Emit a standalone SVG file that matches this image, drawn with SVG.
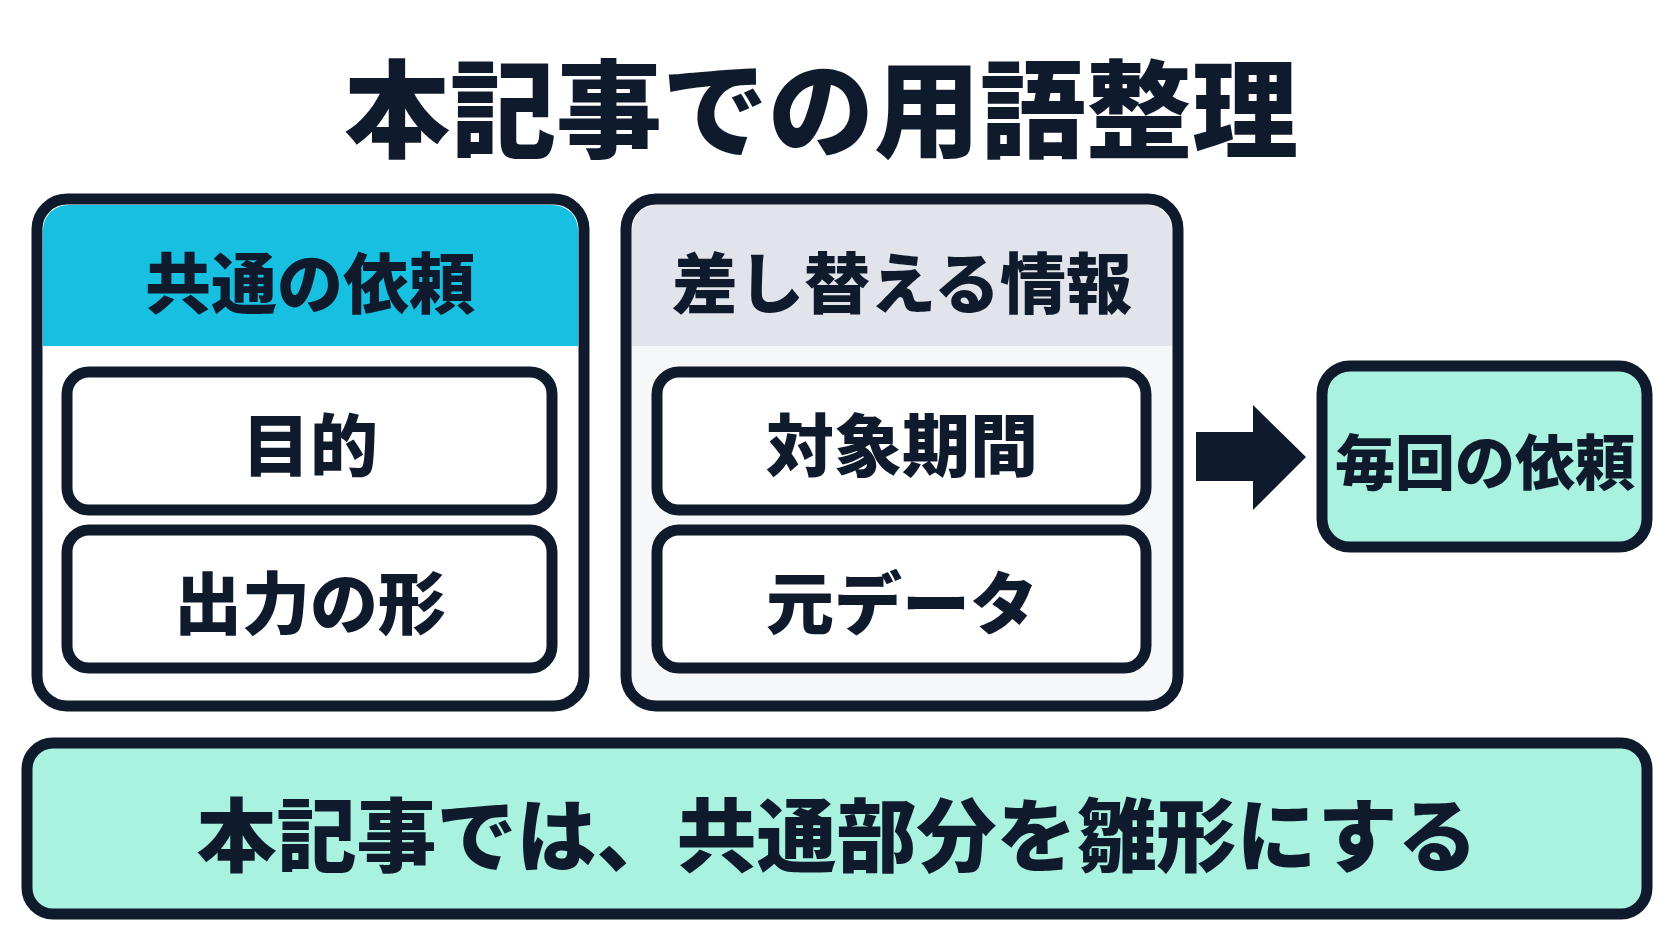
<svg xmlns="http://www.w3.org/2000/svg" width="1672" height="941" viewBox="0 0 1672 941">
<style>
text{font-family:"Noto Sans CJK JP",sans-serif;font-weight:900;fill:#0f1b2d;text-anchor:middle;dominant-baseline:central}
.b{stroke:#0f1b2d;stroke-width:11}
</style>
<rect width="1672" height="941" fill="#ffffff"/>
<g id="title"><text x="821" y="103" font-size="106">本記事での用語整理</text></g>
<g id="common">
<rect x="37" y="199" width="547" height="507" rx="30" fill="#fff" class="b"/>
<path d="M43 346V230a25 25 0 0 1 25-25h485a25 25 0 0 1 25 25v116z" fill="#17c0e0"/>
<text x="310" y="279" font-size="66">共通の依頼</text>
</g>
<g id="purpose"><rect x="67" y="372" width="485" height="138" rx="22" fill="#fff" class="b" stroke-width="9"/><text x="310" y="441" font-size="68">目的</text></g>
<g id="format"><rect x="67" y="530" width="485" height="138" rx="22" fill="#fff" class="b" stroke-width="9"/><text x="310" y="599" font-size="68">出力の形</text></g>
<g id="swap">
<rect x="626" y="199" width="552" height="507" rx="30" fill="#f6f7f9" class="b"/>
<path d="M632 346V230a25 25 0 0 1 25-25h490a25 25 0 0 1 25 25v116z" fill="#e1e4ea"/>
<text x="902" y="279" font-size="66">差し替える情報</text>
</g>
<g id="period"><rect x="657" y="372" width="489" height="138" rx="22" fill="#fff" class="b" stroke-width="9"/><text x="902" y="441" font-size="68">対象期間</text></g>
<g id="data"><rect x="657" y="530" width="489" height="138" rx="22" fill="#fff" class="b" stroke-width="9"/><text x="902" y="599" font-size="68">元データ</text></g>
<g id="connectors"><polygon points="1196,432 1253,432 1253,405 1306,457 1253,510 1253,481 1196,481" fill="#0f1b2d"/></g>
<g id="each"><rect x="1322" y="366" width="325" height="181" rx="28" fill="#a9f2df" class="b"/><text x="1485" y="458" font-size="60">毎回の依頼</text></g>
<g id="bottom"><rect x="27" y="743" width="1620" height="171" rx="26" fill="#a9f2df" class="b"/><text x="837" y="830" font-size="80">本記事では、共通部分を雛形にする</text></g>
</svg>
